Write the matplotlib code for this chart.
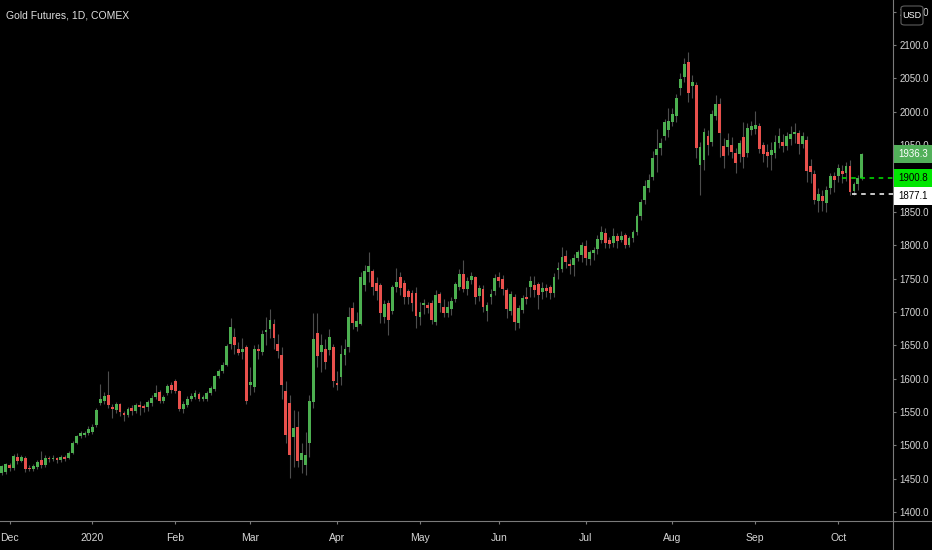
import numpy as np
import pandas as pd
import matplotlib
matplotlib.use('Agg')
import matplotlib.pyplot as plt
from matplotlib.patches import Rectangle, FancyBboxPatch
from matplotlib.lines import Line2D
from matplotlib.transforms import blended_transform_factory

plt.rcParams['font.family'] = ['Liberation Sans', 'DejaVu Sans']

# Trading days shown (exchange holidays removed)
holidays = ['2019-11-28', '2019-12-25', '2020-01-01', '2020-01-20', '2020-02-17',
            '2020-04-10', '2020-05-25', '2020-07-03', '2020-09-07']
dates = pd.bdate_range('2019-11-27', '2020-10-09').drop(pd.to_datetime(holidays))

# Daily OHLC (Nov 27 2019 .. Oct 9 2020)
opens = [
    1459, 1460,
    1471, 1466, 1483, 1477, 1481, 1466, 1465, 1467, 1478, 1470, 1481, 1480, 1481, 1478, 1482, 1481, 1489, 1504, 1514, 1516, 1518,
    1520, 1530, 1563, 1567, 1576, 1558, 1553, 1562, 1549, 1546, 1556, 1551, 1560, 1559, 1557, 1564, 1573, 1580, 1566, 1578, 1590,
    1597, 1581, 1554, 1560, 1569, 1573, 1577, 1570, 1570, 1578, 1585, 1604, 1612, 1621, 1652, 1662, 1645, 1640, 1647,
    1591, 1588, 1645, 1640, 1670, 1675, 1682, 1652, 1636, 1582, 1563, 1512, 1528, 1478, 1470, 1504, 1565, 1668, 1640, 1644, 1643, 1647,
    1594, 1602, 1636, 1647, 1706, 1678, 1682, 1741, 1760, 1761, 1744, 1740, 1693, 1714, 1702, 1737, 1752, 1744, 1731, 1728, 1729,
    1693, 1711, 1711, 1714, 1685, 1727, 1707, 1698, 1705, 1719, 1738, 1757, 1734, 1748, 1752, 1724, 1735, 1702, 1722, 1731,
    1752, 1750, 1733, 1701, 1722, 1684, 1703, 1722, 1738, 1740, 1742, 1730, 1736, 1737, 1729, 1763, 1765, 1784, 1772, 1771, 1781, 1785,
    1799, 1779, 1788, 1794, 1808, 1818, 1808, 1803, 1814, 1808, 1815, 1800, 1811, 1819, 1843, 1867, 1886, 1902, 1935, 1946, 1964, 1972,
    1985, 1993, 2036, 2052, 2074, 2038, 2040, 1920, 1928, 1963, 1955, 1994, 2011, 1948, 1947, 1950, 1938, 1937, 1962, 1938, 1972,
    1974, 1979, 1950, 1939, 1935, 1938, 1953, 1954, 1948, 1959, 1966, 1968, 1951, 1958, 1918, 1906, 1866, 1874, 1863, 1886, 1903,
    1904, 1911, 1908, 1919, 1881, 1891, 1901,
]
highs = [
    1471, 1474,
    1474, 1487, 1488, 1486, 1484, 1470, 1472, 1478, 1492, 1485, 1484, 1485, 1483, 1486, 1485, 1491, 1506, 1516, 1521, 1522, 1529,
    1532, 1556, 1592, 1580, 1611, 1562, 1565, 1564, 1552, 1558, 1560, 1563, 1566, 1562, 1568, 1575, 1590, 1583, 1576, 1592, 1595,
    1600, 1583, 1566, 1574, 1578, 1583, 1580, 1575, 1581, 1589, 1606, 1615, 1625, 1652, 1691, 1676, 1655, 1661, 1651,
    1617, 1650, 1652, 1673, 1692, 1704, 1690, 1667, 1647, 1596, 1575, 1553, 1552, 1503, 1520, 1575, 1698, 1698, 1667, 1660, 1674, 1652,
    1612, 1650, 1660, 1707, 1715, 1700, 1760, 1770, 1790, 1765, 1753, 1744, 1718, 1718, 1740, 1766, 1760, 1748, 1735, 1733, 1737,
    1715, 1719, 1715, 1718, 1733, 1730, 1720, 1716, 1722, 1745, 1765, 1778, 1752, 1760, 1754, 1740, 1740, 1715, 1735, 1757,
    1760, 1756, 1736, 1732, 1727, 1710, 1726, 1738, 1754, 1754, 1745, 1745, 1742, 1740, 1758, 1775, 1797, 1792, 1779, 1787, 1792, 1804,
    1808, 1792, 1797, 1815, 1829, 1826, 1812, 1825, 1818, 1821, 1818, 1814, 1823, 1846, 1869, 1898, 1906, 1941, 1974, 1960, 1989, 2005,
    2006, 2026, 2058, 2081, 2089, 2055, 2045, 1955, 1975, 1972, 2002, 2025, 2020, 1960, 1968, 1962, 1945, 1958, 1985, 1983, 1986,
    2001, 1983, 1955, 1952, 1955, 1965, 1976, 1966, 1970, 1978, 1983, 1972, 1969, 1963, 1929, 1912, 1885, 1882, 1889, 1908, 1910,
    1922, 1920, 1925, 1928, 1895, 1905, 1938,
]
lows = [
    1456, 1457,
    1462, 1463, 1472, 1475, 1460, 1461, 1462, 1464, 1466, 1467, 1475, 1476, 1474, 1475, 1477, 1479, 1487, 1502, 1511, 1512, 1515,
    1517, 1527, 1560, 1562, 1556, 1541, 1549, 1544, 1536, 1543, 1546, 1548, 1546, 1550, 1552, 1559, 1570, 1563, 1563, 1575, 1578,
    1578, 1551, 1548, 1557, 1566, 1570, 1566, 1566, 1567, 1575, 1582, 1601, 1608, 1619, 1645, 1637, 1635, 1630, 1562,
    1575, 1580, 1629, 1636, 1650, 1661, 1645, 1631, 1569, 1503, 1451, 1467, 1468, 1458, 1455, 1482, 1556, 1618, 1610, 1615, 1635, 1588,
    1583, 1590, 1620, 1640, 1675, 1672, 1680, 1731, 1745, 1725, 1718, 1684, 1683, 1665, 1697, 1730, 1725, 1712, 1712, 1702, 1676,
    1680, 1697, 1698, 1682, 1680, 1700, 1692, 1692, 1696, 1715, 1733, 1730, 1726, 1742, 1712, 1717, 1700, 1686, 1712, 1725,
    1738, 1725, 1691, 1695, 1673, 1676, 1698, 1712, 1722, 1723, 1705, 1720, 1722, 1719, 1723, 1750, 1760, 1766, 1757, 1754, 1777, 1775,
    1771, 1771, 1778, 1787, 1803, 1796, 1795, 1797, 1795, 1804, 1796, 1797, 1805, 1815, 1838, 1862, 1880, 1898, 1910, 1935, 1958, 1962,
    1978, 1985, 2025, 2045, 2015, 2020, 1930, 1875, 1912, 1935, 1948, 1988, 1932, 1915, 1935, 1930, 1908, 1925, 1915, 1932, 1965,
    1966, 1938, 1924, 1917, 1913, 1930, 1945, 1940, 1942, 1950, 1953, 1936, 1945, 1895, 1893, 1862, 1849, 1851, 1850, 1877, 1880,
    1895, 1893, 1896, 1875, 1875, 1883, 1897,
]
closes = [
    1469, 1472,
    1466, 1484, 1477, 1482, 1464, 1465, 1469, 1475, 1471, 1481, 1479, 1480.5, 1478, 1483, 1480, 1489, 1504, 1514, 1518, 1519, 1525,
    1528, 1553, 1570, 1574, 1560, 1554, 1562, 1550, 1545, 1555, 1551, 1560, 1558, 1556, 1565, 1571, 1579, 1567, 1573, 1589, 1583,
    1582, 1555, 1562, 1570, 1574, 1579, 1569, 1572, 1578, 1586, 1604, 1612, 1621, 1649, 1677, 1650, 1638, 1644, 1566,
    1595, 1644, 1641, 1667, 1673, 1688, 1661, 1642, 1590, 1516, 1486, 1526, 1477, 1488, 1485, 1567, 1660, 1634, 1651, 1625, 1663, 1596,
    1590, 1637, 1645, 1693, 1683, 1686, 1752, 1762, 1769, 1737, 1731, 1698, 1712, 1688, 1737, 1745, 1736, 1723, 1722, 1714, 1694,
    1700, 1713, 1706, 1688, 1726, 1713, 1698, 1708, 1717, 1742, 1757, 1734, 1747, 1754, 1722, 1736, 1707, 1710, 1727, 1751,
    1746, 1734, 1704, 1727, 1685, 1706, 1721, 1719, 1747, 1733, 1726, 1736, 1732, 1729, 1753, 1766, 1782, 1775, 1769, 1780, 1789, 1800,
    1780, 1789, 1793, 1809, 1820, 1803, 1802, 1814, 1806, 1814, 1800, 1810, 1820, 1843, 1864, 1888, 1897, 1931, 1944, 1953, 1985, 1986,
    1997, 2021, 2049, 2071, 2028, 2044, 1946, 1947, 1969, 1950, 1997, 2012, 1968, 1933, 1957, 1939, 1923, 1953, 1932, 1975, 1979,
    1980, 1944, 1937, 1934, 1943, 1954, 1963, 1948, 1964, 1967, 1970, 1951, 1963, 1911, 1909, 1868, 1877, 1866, 1882, 1903, 1897,
    1916, 1907, 1919, 1880, 1892, 1900, 1936.3,
]

# Price scale labels on the right
last_price = 1936.3
level_green = 1900.8
level_white = 1877.1
y_ticks = list(range(1400, 2151, 50))

assert len(opens) == len(highs) == len(lows) == len(closes) == len(dates)

up_color = '#4caf50'
down_color = '#e8504c'
wick_color = '#4d4d4d'
text_color = '#d6d6d6'
line_color = '#7a7a7a'
fs = 7

o = np.array(opens, dtype=float)
h = np.array(highs, dtype=float)
l = np.array(lows, dtype=float)
c = np.array(closes, dtype=float)
x = np.arange(len(dates))
colors = np.where(c >= o, up_color, down_color)

fig = plt.figure(figsize=(9.32, 5.5), dpi=100, facecolor='black')
ax = fig.add_axes([0, 29 / 550, 893 / 932, 521 / 550])
ax.set_facecolor('black')

# Candles
ax.vlines(x, l, h, color=wick_color, linewidth=0.8, zorder=2)
ax.bar(x, np.maximum(np.abs(c - o), 0.9), bottom=np.minimum(o, c), width=0.72,
       color=colors, linewidth=0, zorder=3)

ax.set_xlim(-0.43, 225.9)
ax.set_ylim(1386.5, 2167.5)

# Month ticks
ticks = [i for i in range(1, len(dates)) if dates[i].month != dates[i - 1].month]
labels = ['2020' if dates[i].month == 1 else dates[i].strftime('%b') for i in ticks]
ax.set_xticks(ticks)
ax.set_xticklabels(labels)

ax.yaxis.tick_right()
ax.set_yticks(y_ticks)
ax.set_yticklabels(['{:.1f}'.format(v) for v in y_ticks])

ax.tick_params(axis='x', colors=line_color, labelcolor=text_color, length=2.5, width=0.8,
               pad=6, labelsize=fs + 0.5)
ax.tick_params(axis='y', colors=line_color, labelcolor=text_color, length=2.5, width=0.8,
               pad=2, labelsize=fs)

for side in ['top', 'left']:
    ax.spines[side].set_visible(False)
for side in ['bottom', 'right']:
    ax.spines[side].set_color(line_color)
    ax.spines[side].set_linewidth(0.8)

# Axis lines continue into the scale corner
fig.add_artist(Line2D([893 / 932, 893 / 932], [0, 29 / 550], color=line_color, linewidth=0.8))
fig.add_artist(Line2D([893 / 932, 1], [29 / 550, 29 / 550], color=line_color, linewidth=0.8))

# Horizontal dashed levels
ax.hlines(level_green, 213, 225.9, colors='#00e600', linestyles=(0, (3, 3)), linewidth=1.1, zorder=4)
ax.hlines(level_white, 215.6, 225.9, colors='#ffffff', linestyles=(0, (3, 3)), linewidth=1.1, zorder=4)

# Price labels on the scale (the white one is pushed below the green one)
tr = blended_transform_factory(fig.transFigure, ax.transData)
half = 13.5
x0 = 894 / 932
wbox = 1 - x0
label_specs = [
    (last_price, last_price, '#52b05a', 'white'),
    (level_green, level_green, '#00e600', 'black'),
    (level_white, level_green - 2 * half - 0.5, '#ffffff', 'black'),
]
for value, center, bg, fg in label_specs:
    fig.add_artist(Rectangle((x0, center - half), wbox, 2 * half, transform=tr,
                             facecolor=bg, edgecolor='none', zorder=5))
    fig.text(x0 + 4 / 932, center, '{:.1f}'.format(value), transform=tr, color=fg,
             fontsize=fs, va='center', ha='left', zorder=6)

# Currency badge
fig.add_artist(FancyBboxPatch((901 / 932, 1 - 25 / 550), 22 / 932, 19 / 550,
                              boxstyle='round,pad=0,rounding_size=0.004',
                              transform=fig.transFigure, facecolor='black',
                              edgecolor='#5d5d5d', linewidth=0.8, zorder=5))
fig.text(912 / 932, 1 - 15.5 / 550, 'USD', color='white', fontsize=6.5,
         ha='center', va='center', zorder=6)

fig.text(6 / 932, 1 - 16 / 550, 'Gold Futures, 1D, COMEX', color='#e0e0e0',
         fontsize=7.5, ha='left', va='center')

fig.savefig('out.png', dpi=100, facecolor='black')
